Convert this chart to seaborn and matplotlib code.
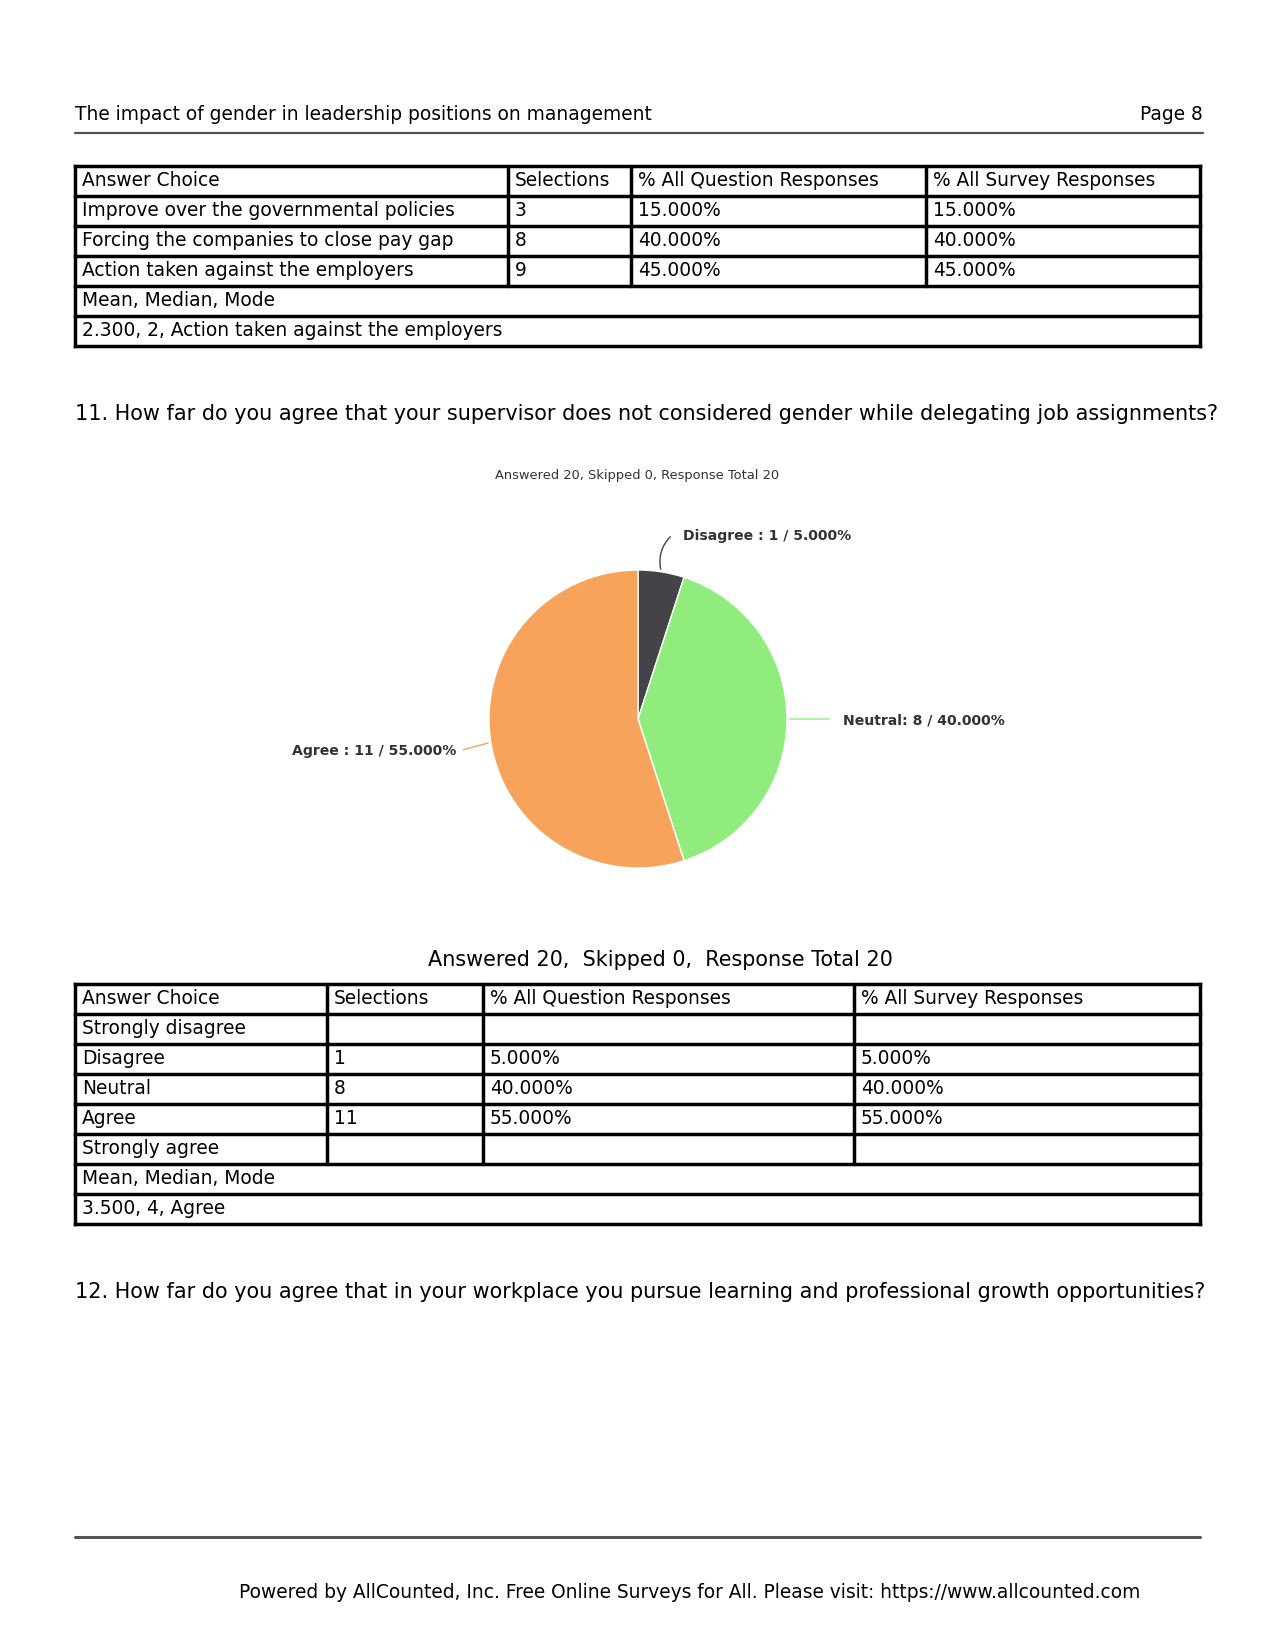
import numpy as np
import matplotlib.pyplot as plt
import seaborn as sns

sns.set_style("white")
plt.rcParams['font.family'] = ['DejaVu Sans']
plt.rcParams['text.color'] = 'black'

# ---- data ----
header_title = "The impact of gender in leadership positions on management"
page_label = "Page 8"
col_headers = ["Answer Choice", "Selections", "% All Question Responses", "% All Survey Responses"]

t1_choices = ["Improve over the governmental policies",
              "Forcing the companies to close pay gap",
              "Action taken against the employers"]
t1_counts = [3, 8, 9]
t1_question_pct = [15.0, 40.0, 45.0]
t1_survey_pct = [15.0, 40.0, 45.0]
t1_stats = "2.300, 2, Action taken against the employers"

q11_text = ("11. How far do you agree that your supervisor does not considered gender "
            "while delegating job assignments?")
q11_summary = "Answered 20, Skipped 0, Response Total 20"
q11_table_summary = "Answered 20,  Skipped 0,  Response Total 20"
q11_choices = ["Strongly disagree", "Disagree", "Neutral", "Agree", "Strongly agree"]
q11_pie_names = ["Strongly disagree ", "Disagree ", "Neutral", "Agree ", "Strongly agree "]
q11_counts = [0, 1, 8, 11, 0]
q11_question_pct = [0.0, 5.0, 40.0, 55.0, 0.0]
q11_survey_pct = [0.0, 5.0, 40.0, 55.0, 0.0]
q11_colors = ["#7cb5ec", "#434348", "#90ed7d", "#f7a35c", "#8085e9"]
q11_stats = "3.500, 4, Agree"

q12_text = ("12. How far do you agree that in your workplace you pursue learning "
            "and professional growth opportunities?")
footer_text = "Powered by AllCounted, Inc. Free Online Surveys for All. Please visit: https://www.allcounted.com"

W, H = 1275, 1651
FS = 13.45
FS_Q = 14.93

fig = plt.figure(figsize=(W / 100, H / 100), dpi=100)
page = fig.add_axes([0, 0, 1, 1])
page.set_xlim(0, W)
page.set_ylim(H, 0)
page.axis("off")


def fmt_pct(p, n):
    return f"{p:.3f}%" if n > 0 else ""


def draw_table(top, col_x, body_rows, stats, row_h=30):
    rows = [col_headers] + body_rows
    n = len(rows) + 2
    left, right = col_x[0], col_x[-1]
    ys = [top + i * row_h for i in range(n + 1)]
    for y in ys:
        page.plot([left, right], [y, y], color="black", lw=2.5, solid_capstyle="projecting")
    for x in [left, right]:
        page.plot([x, x], [ys[0], ys[-1]], color="black", lw=2.5, solid_capstyle="projecting")
    for x in col_x[1:-1]:
        page.plot([x, x], [ys[0], ys[len(rows)]], color="black", lw=2.5)
    for i, row in enumerate(rows):
        yc = (ys[i] + ys[i + 1]) / 2
        for j, cell in enumerate(row):
            page.text(col_x[j] + 7, yc, cell, fontsize=FS, va="center", ha="left")
    page.text(left + 7, (ys[-3] + ys[-2]) / 2, "Mean, Median, Mode", fontsize=FS, va="center")
    page.text(left + 7, (ys[-2] + ys[-1]) / 2, stats, fontsize=FS, va="center")


# header
page.text(75, 114, header_title, fontsize=FS, va="center")
page.text(1203, 114, page_label, fontsize=FS, va="center", ha="right")
page.plot([75, 1203], [133, 133], color="#555555", lw=1.6)

# table 1
t1_rows = [[c, str(n), fmt_pct(q, n), fmt_pct(s, n)]
           for c, n, q, s in zip(t1_choices, t1_counts, t1_question_pct, t1_survey_pct)]
draw_table(166, [75, 508, 631, 926, 1200], t1_rows, t1_stats)

# question 11
page.text(75, 414, q11_text, fontsize=FS_Q, va="center")
page.text(637, 475, q11_summary, fontsize=9.4, va="center", ha="center", color="#333333")

# pie
cx, cy, r = 638, 719, 149
pie_ax = fig.add_axes([(cx - r) / W, 1 - (cy + r) / H, 2 * r / W, 2 * r / H])
vals = [v for v in q11_counts if v > 0]
cols = [c for c, v in zip(q11_colors, q11_counts) if v > 0]
names = [nm for nm, v in zip(q11_pie_names, q11_counts) if v > 0]
pcts = [p for p, v in zip(q11_question_pct, q11_counts) if v > 0]
pie_ax.pie(vals, colors=cols, startangle=90, counterclock=False, radius=1,
           wedgeprops=dict(edgecolor="white", linewidth=1.0))
pie_ax.set_xlim(-1, 1)
pie_ax.set_ylim(-1, 1)
pie_ax.axis("off")

# labels with connectors
total = sum(vals)
angle = 90.0
label_offsets = [(11, -37, "left", 0.3), (45, 0, "left", 0.0), (-30, 8, "right", 0.0)]
for v, c, nm, p, (dx, dy, ha, rad) in zip(vals, cols, names, pcts, label_offsets):
    span = 360.0 * v / total
    mid = np.deg2rad(angle - span / 2)
    angle -= span
    sx, sy = cx + r * np.cos(mid), cy - r * np.sin(mid)
    ex, ey = sx + dx, sy + dy
    page.annotate("", xy=(sx, sy), xytext=(ex, ey),
                  arrowprops=dict(arrowstyle="-", color=c, lw=1.0,
                                  connectionstyle=f"arc3,rad={rad}"))
    tx = ex + (11 if ha == "left" else -4)
    page.text(tx, ey + 1, f"{nm}: {v} / {p:.3f}%", fontsize=10.1, fontweight="bold",
              color="#333333", va="center", ha=ha)

# table 2
page.text(660, 960, q11_table_summary, fontsize=FS_Q, va="center", ha="center")
t2_rows = [[c, str(n) if n > 0 else "", fmt_pct(q, n), fmt_pct(s, n)]
           for c, n, q, s in zip(q11_choices, q11_counts, q11_question_pct, q11_survey_pct)]
draw_table(984, [75, 327, 483, 854, 1200], t2_rows, q11_stats)

# question 12
page.text(75, 1292, q12_text, fontsize=FS_Q, va="center")

# footer
page.plot([75, 1200], [1537, 1537], color="#555555", lw=2.2)
page.text(690, 1592, footer_text, fontsize=FS, va="center", ha="center")

fig.savefig("out.png", dpi=100)
